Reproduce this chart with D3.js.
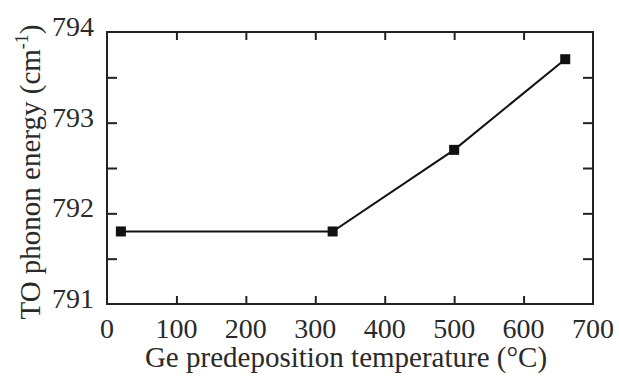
<!DOCTYPE html>
<html>
<head>
<meta charset="utf-8">
<script src="https://cdn.jsdelivr.net/npm/d3@7/dist/d3.min.js"></script>
</head>
<body style="margin:0">
<svg id="s" width="619" height="376"></svg>
<script>
// Predeposition temperature (°C) and TO phonon energy (cm^-1)
const temperatures = [20, 325, 500, 660];
const energies = [791.8, 791.8, 792.7, 793.7];

const xTicks = [0, 100, 200, 300, 400, 500, 600, 700];
const yTicks = [791, 791.5, 792, 792.5, 793, 793.5, 794];
const yLabels = [791, 792, 793, 794];

const xTitle = "Ge predeposition temperature (°C)";

const fontStack = "\"Liberation Serif\", \"Times New Roman\", serif";
const textColor = "#2a2a2a";
const axisColor = "#222";

const svg = d3.select("#s");
const margin = { left: 107, right: 26, top: 32, bottom: 72 };
const W = 619, H = 376;
const iw = W - margin.left - margin.right;
const ih = H - margin.top - margin.bottom;

const x = d3.scaleLinear().domain([0, 700]).range([0, iw]);
const y = d3.scaleLinear().domain([791, 794]).range([ih, 0]);

const g = svg.append("g").attr("transform", `translate(${margin.left},${margin.top})`);

// Tick marks on all four sides, pointing inward
const xb = g.append("g").attr("transform", `translate(0,${ih})`)
  .call(d3.axisBottom(x).tickValues(xTicks).tickSizeInner(-8).tickSizeOuter(0).tickFormat(""));
const xt = g.append("g")
  .call(d3.axisTop(x).tickValues(xTicks).tickSizeInner(-8).tickSizeOuter(0).tickFormat(""));
const yl = g.append("g")
  .call(d3.axisLeft(y).tickValues(yTicks).tickSizeInner(-10).tickSizeOuter(0).tickFormat(""));
const yr = g.append("g").attr("transform", `translate(${iw},0)`)
  .call(d3.axisRight(y).tickValues(yTicks).tickSizeInner(-10).tickSizeOuter(0).tickFormat(""));

[xb, xt, yl, yr].forEach(a => {
  a.select(".domain").remove();
  a.selectAll(".tick text").remove();
  a.selectAll(".tick line").attr("stroke", axisColor).attr("stroke-width", 2);
});
// End ticks would sit on the frame corners
xb.selectAll(".tick").filter(d => d === 0 || d === 700).remove();
xt.selectAll(".tick").filter(d => d === 0 || d === 700).remove();
yl.selectAll(".tick").filter(d => d === 791 || d === 794).remove();
yr.selectAll(".tick").filter(d => d === 791 || d === 794).remove();

// Tick labels, placed with the same scales
svg.selectAll("text.xl").data(xTicks).enter().append("text").attr("class", "xl")
  .attr("x", d => margin.left + x(d)).attr("y", margin.top + ih + 34)
  .attr("text-anchor", "middle").attr("font-size", 28).attr("fill", textColor)
  .style("font-family", fontStack)
  .text(d => d3.format("d")(d));

svg.selectAll("text.yl").data(yLabels).enter().append("text").attr("class", "yl")
  .attr("x", margin.left - 13).attr("y", d => margin.top + y(d) + 4)
  .attr("text-anchor", "end").attr("font-size", 28).attr("fill", textColor)
  .style("font-family", fontStack)
  .text(d => d3.format("d")(d));

// Frame
g.append("rect").attr("x", 0).attr("y", 0).attr("width", iw).attr("height", ih)
  .attr("fill", "none").attr("stroke", axisColor).attr("stroke-width", 2);

// Data line and square markers
const pts = temperatures.map((t, i) => [t, energies[i]]);
g.append("path").datum(pts)
  .attr("fill", "none").attr("stroke", "#111").attr("stroke-width", 2)
  .attr("d", d3.line().x(d => x(d[0])).y(d => y(d[1])));

const ms = 10;
g.selectAll("rect.pt").data(pts).enter().append("rect").attr("class", "pt")
  .attr("x", d => x(d[0]) - ms / 2).attr("y", d => y(d[1]) - ms / 2)
  .attr("width", ms).attr("height", ms).attr("fill", "#111");

// Axis titles
svg.append("text").attr("x", margin.left + iw / 2 - 4).attr("y", 367)
  .style("font-family", fontStack).attr("fill", textColor)
  .attr("text-anchor", "middle").attr("font-size", 29).text(xTitle);

const yt = svg.append("text").attr("text-anchor", "middle").attr("font-size", 29)
  .style("font-family", fontStack).attr("fill", textColor)
  .attr("transform", `translate(40,${margin.top + ih / 2 + 4}) rotate(-90)`);
yt.append("tspan").text("TO phonon energy (cm");
yt.append("tspan").attr("font-size", 18).attr("dy", -12).text("-1");
yt.append("tspan").attr("dy", 12).text(")");
</script>
</body>
</html>
